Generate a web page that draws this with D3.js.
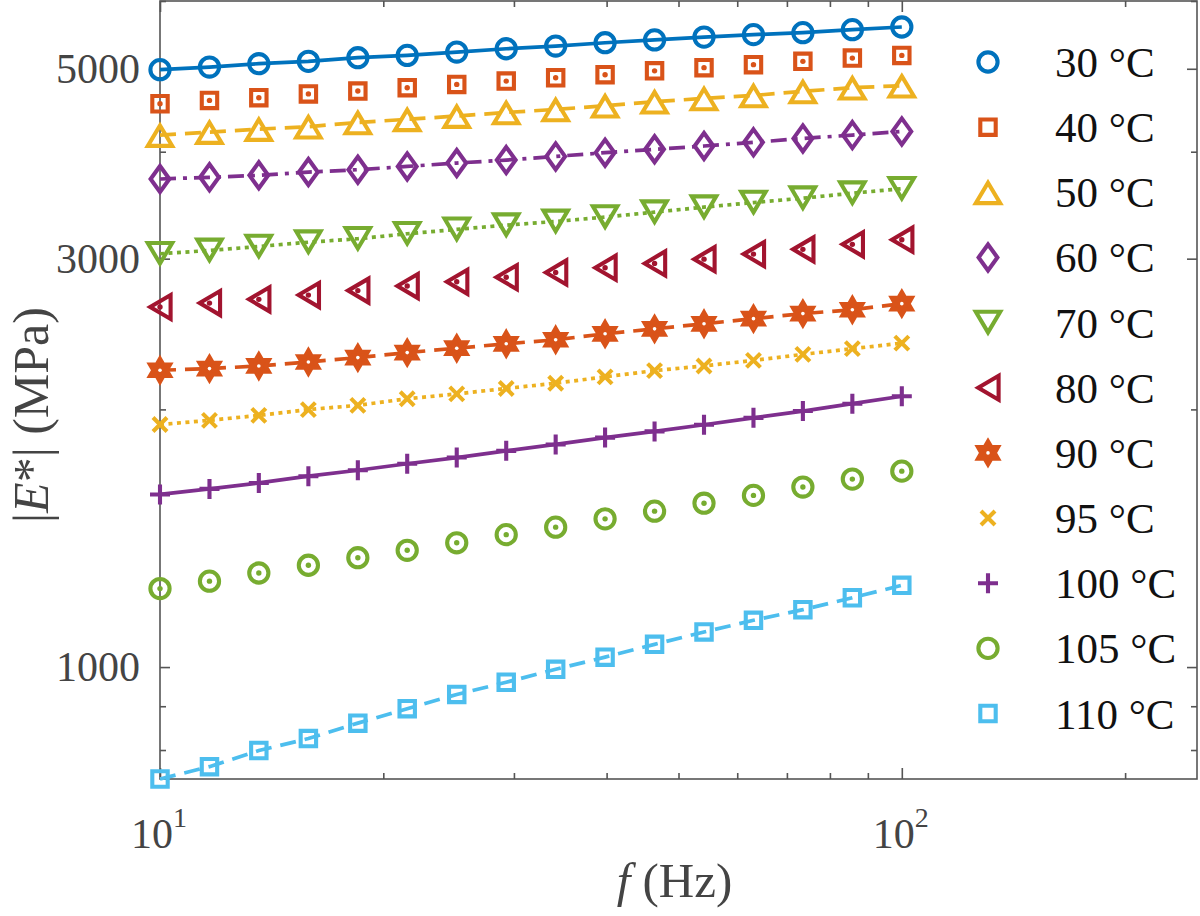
<!DOCTYPE html>
<html>
<head>
<meta charset="utf-8">
<script src="https://cdn.jsdelivr.net/npm/d3@7/dist/d3.min.js"></script>
<style>
  html, body { margin: 0; padding: 0; background: #fff; }
  svg { display: block; }
  text { font-family: "Liberation Serif", "Times New Roman", serif; }
</style>
</head>
<body>
<svg id="chart" width="1200" height="916"></svg>
<script>
// ---------------- data ----------------
const freq = [10, 11.66, 13.59, 15.85, 18.48, 21.54, 25.12, 29.29, 34.15, 39.81, 46.42, 54.12, 63.10, 73.56, 85.77, 100];
const seriesLabels = ["30 °C", "40 °C", "50 °C", "60 °C", "70 °C", "80 °C", "90 °C", "95 °C", "100 °C", "105 °C", "110 °C"];
const E30  = [4988, 5023, 5069, 5101, 5151, 5183, 5230, 5277, 5315, 5363, 5404, 5445, 5481, 5510, 5555, 5595];
const E40  = [4551, 4592, 4626, 4673, 4709, 4752, 4794, 4837, 4881, 4921, 4972, 5015, 5056, 5101, 5146, 5183];
const E50  = [4183, 4217, 4251, 4279, 4328, 4364, 4403, 4446, 4482, 4527, 4576, 4617, 4654, 4705, 4752, 4777];
const E60  = [3717, 3734, 3754, 3787, 3811, 3845, 3880, 3911, 3950, 3990, 4026, 4062, 4102, 4146, 4183, 4225];
const E70  = [3040, 3067, 3100, 3136, 3165, 3208, 3246, 3283, 3316, 3355, 3400, 3446, 3489, 3530, 3578, 3621];
const E80  = [2634, 2662, 2689, 2720, 2753, 2787, 2819, 2854, 2891, 2928, 2962, 2996, 3037, 3076, 3118, 3157];
const E90  = [2222, 2232, 2248, 2272, 2299, 2330, 2358, 2386, 2412, 2451, 2484, 2518, 2553, 2588, 2615, 2658];
const E95  = [1920, 1942, 1968, 1999, 2022, 2058, 2085, 2116, 2146, 2183, 2220, 2248, 2282, 2319, 2355, 2390];
const E100 = [1591, 1615, 1641, 1671, 1698, 1728, 1757, 1789, 1820, 1854, 1885, 1919, 1955, 1991, 2031, 2072];
const E105 = [1235, 1260, 1288, 1315, 1342, 1369, 1397, 1428, 1457, 1490, 1521, 1554, 1587, 1623, 1658, 1694];
const E110 = [740, 765, 799, 825, 860, 894, 929, 960, 994, 1027, 1063, 1099, 1134, 1167, 1205, 1246];
const seriesValues = [E30, E40, E50, E60, E70, E80, E90, E95, E100, E105, E110];
const seriesColors = ["#0072BD", "#D95319", "#EDB120", "#7E2F8E", "#77AC30", "#A2142F", "#D95319", "#EDB120", "#7E2F8E", "#77AC30", "#4DBEEE"];
const seriesMarkers = ["circle", "square", "triUp", "diamond", "triDown", "triLeft", "hexagram", "x", "plus", "circle", "square"];
const seriesLines = ["solid", "none", "dashed", "dashdot", "dotted", "none", "dashed", "dotted", "solid", "none", "dashed"];

const xMajorTicks = [10, 100];
const xMinorTicks = [20, 30, 40, 50, 60, 70, 80, 90, 200];
const xTickExponents = ["1", "2"];
const yMajorTicks = [1000, 3000, 5000];
const yMinorTicks = [800, 900, 2000, 4000, 6000];
const yTickLabels = ["1000", "3000", "5000"];

// ---------------- layout ----------------
const L = 160, R = 1197, T = 1, B = 779;
const svg = d3.select("#chart");
const x = d3.scaleLog().domain([10, 250]).range([L, R]);
const y = d3.scaleLog().domain([740, 6000]).range([B, T]);

const axisColor = "#555555";
const textColor = "#444444";
const MSW = 4.1;   // marker stroke
const LSW = 3.7;   // line stroke

// box
svg.append("rect").attr("x", L).attr("y", T).attr("width", R - L).attr("height", B - T)
  .attr("fill", "none").attr("stroke", axisColor).attr("stroke-width", 1.6);

function drawAxis(gen, scale, vals, size, transform) {
  const g = svg.append("g").attr("transform", transform)
    .call(gen(scale).tickValues(vals).tickSize(size).tickFormat(""));
  g.select(".domain").remove();
  g.selectAll(".tick line").attr("stroke", axisColor).attr("stroke-width", 1.6);
}
// inward ticks on all four sides
drawAxis(d3.axisBottom, x, xMajorTicks, -11, `translate(0,${B})`);
drawAxis(d3.axisBottom, x, xMinorTicks, -6, `translate(0,${B})`);
drawAxis(d3.axisTop, x, xMajorTicks, -11, `translate(0,${T})`);
drawAxis(d3.axisTop, x, xMinorTicks, -6, `translate(0,${T})`);
drawAxis(d3.axisLeft, y, yMajorTicks, -10, `translate(${L},0)`);
drawAxis(d3.axisLeft, y, yMinorTicks, -6, `translate(${L},0)`);
drawAxis(d3.axisRight, y, yMajorTicks, -10, `translate(${R},0)`);
drawAxis(d3.axisRight, y, yMinorTicks, -6, `translate(${R},0)`);

// y tick labels
yMajorTicks.forEach((v, i) => {
  svg.append("text").attr("x", L - 20).attr("y", y(v) + 14)
    .attr("text-anchor", "end").attr("font-size", 42).attr("fill", textColor)
    .text(yTickLabels[i]);
});
// x tick labels 10^n
xMajorTicks.forEach((v, i) => {
  const t = svg.append("text").attr("x", x(v) - 1).attr("y", 848)
    .attr("text-anchor", "middle").attr("font-size", 42).attr("fill", textColor);
  t.append("tspan").text("10");
  t.append("tspan").attr("dy", -21).attr("font-size", 28).text(xTickExponents[i]);
});

// axis labels
const xl = svg.append("text").attr("x", (L + R) / 2 - 4).attr("y", 897)
  .attr("text-anchor", "middle").attr("font-size", 49).attr("fill", textColor);
xl.append("tspan").attr("font-style", "italic").text("f");
xl.append("tspan").text("\u00a0(Hz)");

const yl = svg.append("text").attr("transform", "translate(48,415) rotate(-90)")
  .attr("text-anchor", "middle").attr("font-size", 50).attr("fill", textColor);
yl.append("tspan").text("|");
yl.append("tspan").attr("font-style", "italic").text("E");
yl.append("tspan").text("*| (MPa)");

// ---------------- markers ----------------
function hexagramPath(Ro) {
  const ri = Ro / Math.sqrt(3);
  const pts = [];
  for (let k = 0; k < 12; k++) {
    const a = -Math.PI / 2 + k * Math.PI / 6;
    const r = k % 2 === 0 ? Ro : ri;
    pts.push([r * Math.cos(a), r * Math.sin(a)]);
  }
  return "M" + pts.map(p => p[0].toFixed(2) + "," + p[1].toFixed(2)).join("L") + "Z";
}
const markerPaths = {
  circle: "M9.6,0A9.6,9.6 0 1,1 -9.6,0A9.6,9.6 0 1,1 9.6,0Z",
  square: "M-7.7,-7.7H7.7V7.7H-7.7Z",
  triUp: "M0,-9.6L12.2,10.8L-12.2,10.8Z",
  triDown: "M0,9.8L12.2,-10.8L-12.2,-10.8Z",
  triLeft: "M-9.8,0L10.6,-12L10.6,12Z",
  diamond: "M0,-13L9.4,0L0,13L-9.4,0Z",
  hexagram: hexagramPath(11.6),
  x: "M-7,-7L7,7M-7,7L7,-7",
  plus: "M-10,0H10M0,-10V10"
};
const dotted = new Set(["square", "triLeft", "circle"]);
const dashes = { solid: null, dashed: "16,9", dashdot: "16,7,4,7", dotted: "4,4.5" };

function drawMarker(g, type, color, cx, cy, centerDot) {
  const filled = type === "hexagram";
  g.append("path").attr("d", markerPaths[type])
    .attr("transform", `translate(${cx},${cy})`)
    .attr("fill", filled ? color : "none").attr("stroke", color).attr("stroke-width", MSW)
    .attr("stroke-linejoin", "miter").attr("stroke-miterlimit", 10);
  if (filled) {
    g.append("circle").attr("cx", cx).attr("cy", cy).attr("r", 1.8).attr("fill", "#fff");
  }
  if (centerDot) {
    g.append("circle").attr("cx", cx).attr("cy", cy).attr("r", 2.7).attr("fill", color);
  }
}

const line = d3.line().x(d => x(d.f)).y(d => y(d.v));

seriesValues.forEach((vals, i) => {
  const g = svg.append("g");
  const pts = freq.map((f, j) => ({ f, v: vals[j] }));
  const ls = seriesLines[i];
  if (ls !== "none") {
    g.append("path").datum(pts).attr("d", line)
      .attr("fill", "none").attr("stroke", seriesColors[i]).attr("stroke-width", LSW)
      .attr("stroke-dasharray", dashes[ls]);
  }
  const cd = ls === "none" && dotted.has(seriesMarkers[i]);
  pts.forEach(p => drawMarker(g, seriesMarkers[i], seriesColors[i], x(p.f), y(p.v), cd));
});

// ---------------- legend ----------------
const legY0 = 62, legDY = 65.15, legMX = 988, legTX = 1055;
seriesLabels.forEach((lab, i) => {
  const yy = legY0 + i * legDY;
  const g = svg.append("g");
  drawMarker(g, seriesMarkers[i], seriesColors[i], legMX, yy, false);
  g.append("text").attr("x", legTX).attr("y", yy + 15)
    .attr("font-size", 43).attr("fill", "#111").text(lab);
});
</script>
</body>
</html>
